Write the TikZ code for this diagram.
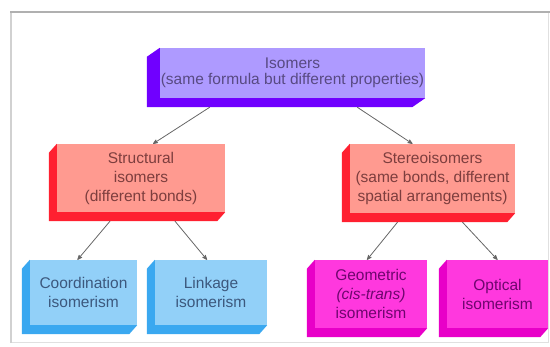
\documentclass[tikz,border=0pt]{standalone}
\usepackage{fontspec}
\setmainfont{Liberation Sans}
\usetikzlibrary{calc,arrows,backgrounds}

\definecolor{purpface}{RGB}{174,154,255}
\definecolor{purpside}{RGB}{112,0,255}
\definecolor{purptext}{RGB}{88,74,130}
\definecolor{redface}{RGB}{255,154,144}
\definecolor{redside}{RGB}{255,32,48}
\definecolor{redtext}{RGB}{125,62,62}
\definecolor{blueface}{RGB}{146,208,248}
\definecolor{blueside}{RGB}{58,168,240}
\definecolor{bluetext}{RGB}{60,88,125}
\definecolor{magface}{RGB}{255,56,222}
\definecolor{magside}{RGB}{232,0,200}
\definecolor{magtext}{RGB}{110,6,110}
\definecolor{framegray}{RGB}{176,176,176}

\tikzset{
 face/.style={align=center, inner sep=0pt, font=\fontsize{15.5}{19}\selectfont},
 isobox/.style={face, fill=purpface, text=purptext, font=\fontsize{15.5}{16.5}\selectfont},
 redbox/.style={face, fill=redface, text=redtext},
 bluebox/.style={face, fill=blueface, text=bluetext},
 magbox/.style={face, fill=magface, text=magtext},
 link/.style={draw=black!60, line width=0.8pt, ->, >=stealth'}
}

\begin{document}
\begin{tikzpicture}[x=1pt, y=-1pt]
\useasboundingbox (0,0) rectangle (550,347);
\draw[black!12, line width=1pt] (11,343) -- (548,343) -- (548,12);
\draw[black!18, line width=1.5pt] (11,343) -- (11,12);
\draw[framegray, line width=2pt] (10,12) -- (550,12);

\node[isobox, minimum width=265, minimum height=50] (isom) at (292.5,73) {Isomers\\(same formula but different properties)};
\node[redbox, minimum width=168, minimum height=68] (struc) at (141,178) {Structural\\isomers\\(different bonds)};
\node[redbox, minimum width=165, minimum height=69] (stereo) at (432.5,178.5) {Stereoisomers\\(same bonds, different\\spatial arrangements)};
\node[bluebox, minimum width=107, minimum height=65] (coord) at (83.5,292.5) {Coordination\\isomerism};
\node[bluebox, minimum width=112, minimum height=65] (linkage) at (211,292.5) {Linkage\\isomerism};
\node[magbox, minimum width=112, minimum height=68] (geom) at (371,294) {Geometric\\\textit{(cis-trans)}\\isomerism};
\node[magbox, minimum width=101, minimum height=68] (optic) at (497.5,294) {Optical\\isomerism};

\begin{scope}[on background layer]
\foreach \n/\c/\d in {isom/purpside/13, struc/redside/8, stereo/redside/8, coord/blueside/8, linkage/blueside/8, geom/magside/8, optic/magside/8} {
 \fill[\c] (\n.north west) -- ++(-\d,9) -- ($(\n.south west)+(-\d,9)$) -- ($(\n.south east)+(-\d,9)$) -- (\n.south east) -- (\n.south west) -- cycle;
}
\end{scope}

\draw[link] ($(isom.south west)+(50,9)$) -- ([xshift=12]struc.north);
\draw[link] ($(isom.south east)+(-68,9)$) -- ([xshift=-20]stereo.north);
\draw[link] ($(struc.south)+(-31,9)$) -- ([xshift=-6]coord.north);
\draw[link] ($(struc.south)+(34,9)$) -- ([xshift=-4]linkage.north);
\draw[link] ($(stereo.south)+(-35,9)$) -- ([xshift=-4]geom.north);
\draw[link] ($(stereo.south)+(30,9)$) -- (optic.north);
\end{tikzpicture}
\end{document}
